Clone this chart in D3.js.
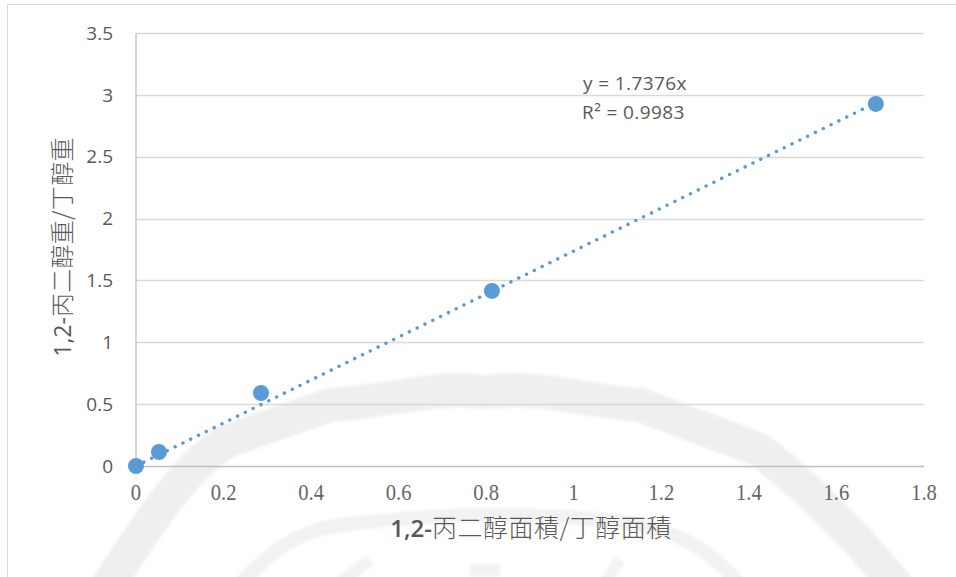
<!DOCTYPE html>
<html>
<head>
<meta charset="utf-8">
<script src="https://cdn.jsdelivr.net/npm/d3@7/dist/d3.min.js"></script>
<style>
  html, body { margin: 0; padding: 0; background: #fff; }
  svg { display: block; }
  .xtick { font-family: "Liberation Serif", "DejaVu Serif", serif; }
</style>
</head>
<body>
<svg id="chart" width="956" height="577"></svg>
<script>
// Calibration data: area ratio vs. weight ratio
const areaRatio = [0, 0.0525, 0.2855, 0.813, 1.690];
const weightRatio = [0, 0.113, 0.59, 1.415, 2.927];
const slope = 1.7376;
const rSquared = 0.9983;
const xTicks = [0, 0.2, 0.4, 0.6, 0.8, 1, 1.2, 1.4, 1.6, 1.8];
const yTicks = [0, 0.5, 1, 1.5, 2, 2.5, 3, 3.5];
const xTitle = "丙二醇面積/丁醇面積";
const yTitle = "丙二醇重/丁醇重";

const svg = d3.select("#chart");
const W = 956, H = 577;
const m = { left: 136, right: 32, top: 33, bottom: 111 };

const x = d3.scaleLinear().domain([0, 1.8]).range([m.left, W - m.right]);
const y = d3.scaleLinear().domain([0, 3.5]).range([H - m.bottom, m.top]);

const blue = "#5b9bd5";
const textCol = "#595959";
const sans = "'Open Sans', 'Liberation Sans', sans-serif";
const cjk = "'Noto Sans CJK TC', 'Noto Sans CJK SC', sans-serif";

// Faint background emblem
const defs = svg.append("defs");
defs.append("filter").attr("id", "soft")
  .append("feGaussianBlur").attr("stdDeviation", 1.5);
const wm = svg.append("g").attr("fill", "none").attr("stroke", "#efefef")
  .attr("stroke-linejoin", "round").attr("filter", "url(#soft)");
wm.append("path").attr("stroke-width", 34)
  .attr("d", "M105,590 C150,520 190,460 230,440 L330,405 C400,400 440,385 485,392 C540,385 580,400 640,405 L760,450 C810,490 860,540 900,590");
wm.append("path").attr("stroke-width", 14).attr("stroke", "#f2f2f2")
  .attr("d", "M235,590 C270,550 300,530 340,525 C400,518 450,515 485,515 C540,515 600,518 640,525 C690,535 720,560 745,590");
wm.append("path").attr("stroke-width", 12).attr("stroke", "#f3f3f3")
  .attr("d", "M330,590 L370,560 M470,570 L500,570 M600,590 L620,560");

// Chart frame edges
svg.append("line").attr("x1", 7.5).attr("x2", 7.5).attr("y1", 4).attr("y2", H)
  .attr("stroke", "#d9d9d9").attr("stroke-width", 1);
svg.append("line").attr("x1", 7).attr("x2", W).attr("y1", 4.5).attr("y2", 4.5)
  .attr("stroke", "#d9d9d9").attr("stroke-width", 1);

// Horizontal gridlines
svg.append("g").selectAll("line").data(yTicks.filter(d => d > 0)).join("line")
  .attr("x1", x(0)).attr("x2", x(1.8))
  .attr("y1", d => Math.round(y(d)) + 0.5).attr("y2", d => Math.round(y(d)) + 0.5)
  .attr("stroke", "#d9d9d9").attr("stroke-width", 1.3);

// Axis lines
svg.append("line").attr("x1", x(0)).attr("x2", x(0))
  .attr("y1", y(3.5)).attr("y2", y(0))
  .attr("stroke", "#bfbfbf").attr("stroke-width", 1.3);
svg.append("line").attr("x1", x(0)).attr("x2", x(1.8))
  .attr("y1", Math.round(y(0)) + 0.5).attr("y2", Math.round(y(0)) + 0.5)
  .attr("stroke", "#bfbfbf").attr("stroke-width", 1.3);

// Y tick labels
svg.append("g").selectAll("text").data(yTicks).join("text")
  .attr("x", 113).attr("y", d => y(d))
  .attr("dy", "0.35em").attr("text-anchor", "end")
  .attr("font-family", sans).attr("font-size", 19).attr("fill", textCol)
  .text(d => d3.format("")(d));

// X tick labels (narrow serif)
svg.append("g").selectAll("text").data(xTicks).join("text")
  .attr("class", "xtick")
  .attr("transform", d => `translate(${x(d)},500) scale(0.86,1)`)
  .attr("text-anchor", "middle")
  .attr("font-size", 24).attr("fill", "#666")
  .text(d => d3.format("")(d));

// Trendline y = slope * x through origin
const xMax = d3.max(areaRatio);
svg.append("line")
  .attr("x1", x(0)).attr("y1", y(0))
  .attr("x2", x(xMax)).attr("y2", y(slope * xMax))
  .attr("stroke", blue).attr("stroke-width", 3.4)
  .attr("stroke-linecap", "round").attr("stroke-dasharray", "0.1 8.6");

// Data markers
const pts = areaRatio.map((v, i) => [v, weightRatio[i]]);
svg.append("g").selectAll("circle").data(pts).join("circle")
  .attr("cx", d => x(d[0])).attr("cy", d => y(d[1])).attr("r", 8)
  .attr("fill", blue);

// Regression label
const eq = svg.append("g").attr("font-family", sans).attr("font-size", 19)
  .attr("letter-spacing", 0.4).attr("fill", textCol);
eq.append("text").attr("x", 583).attr("y", 90).text(`y = ${slope}x`);
eq.append("text").attr("x", 582).attr("y", 119).text(`R² = ${rSquared}`);

// X axis title
const xt = svg.append("text").attr("x", 531).attr("y", 537).attr("text-anchor", "middle")
  .attr("fill", textCol);
xt.append("tspan").attr("font-family", sans).attr("font-size", 24).attr("font-weight", 600).text("1,2-");
xt.append("tspan").attr("font-family", cjk).attr("font-size", 25).attr("font-weight", 300)
  .attr("letter-spacing", 0.5).text(xTitle);

// Y axis title
const yt = svg.append("text")
  .attr("transform", `translate(71,247) rotate(-90)`)
  .attr("text-anchor", "middle").attr("fill", textCol);
yt.append("tspan").attr("font-family", sans).attr("font-size", 23).text("1,2-");
yt.append("tspan").attr("font-family", cjk).attr("font-size", 24).attr("font-weight", 300)
  .attr("letter-spacing", 0.3).text(yTitle);
</script>
</body>
</html>
